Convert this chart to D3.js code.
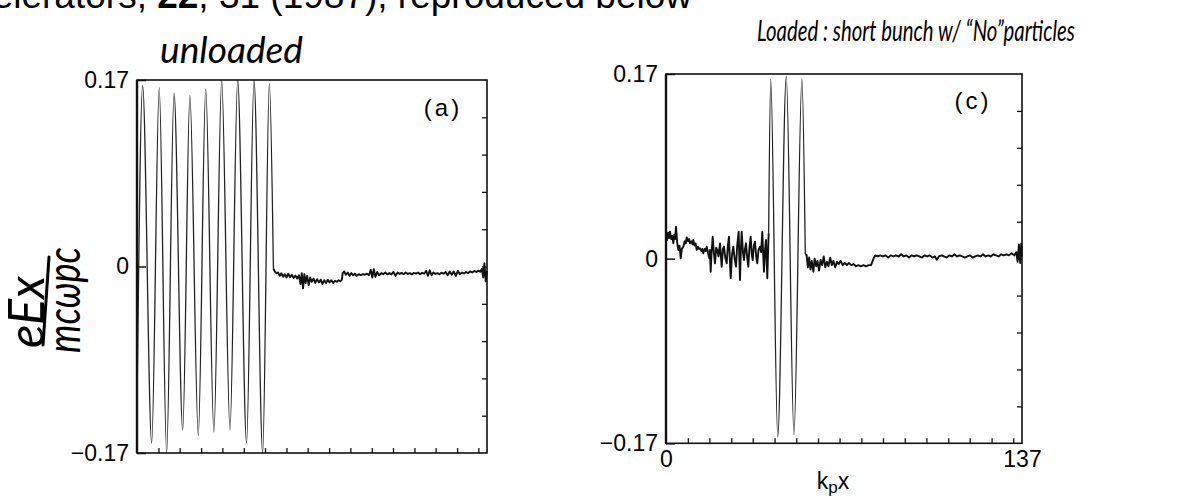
<!DOCTYPE html>
<html>
<head>
<meta charset="utf-8">
<script src="https://cdn.jsdelivr.net/npm/d3@7"></script>
<style>
  body { margin: 0; background: #fff; }
  svg { display: block; }
</style>
</head>
<body>
<div id="chart"></div>
<script>
// Data (x in k_p x units, y in eEx / m c w_p c)
const xDomain = [0, 137];
const yDomain = [-0.17, 0.17];
const xTicks = [8.4, 16.7, 25.1, 33.4, 41.8, 50.1, 58.5, 66.8, 75.2, 83.5, 91.9, 100.2, 108.6, 116.9, 125.3, 133.6];
const yTicks = [-0.136, -0.102, -0.068, -0.034, 0, 0.034, 0.068, 0.102, 0.136];
const yLabels = [-0.17, 0, 0.17];
const xLabels = [0, 137];

// (a) unloaded: wake oscillation, then flat noisy tail
const leftWave = [
  [0, -0.13], [2.2, 0.165], [5.75, -0.161], [8.7, 0.163], [11.6, -0.17], [14.5, 0.158],
  [17.9, -0.149], [20.7, 0.156], [24.0, -0.154], [26.9, 0.162], [30.1, -0.151], [33.15, 0.17],
  [36.4, -0.149], [39.4, 0.17], [42.9, -0.161], [45.8, 0.17], [49.2, -0.17], [51.8, 0.167],
  [53.4, -0.002]
];
const leftNoise = [
  [53.4, -0.002], [54.0, -0.0047], [54.6, -0.0062], [55.2, -0.0055], [55.9, -0.0085], [56.5, -0.0062],
  [57.2, -0.0093], [57.8, -0.007], [58.5, -0.0100], [59.2, -0.0066], [59.9, -0.0098], [60.6, -0.0075],
  [61.3, -0.0105], [62.0, -0.0082], [62.7, -0.0110], [63.4, -0.0080], [64.0, -0.0160], [64.5, -0.0060],
  [65.0, -0.0199], [65.5, -0.0070], [66.0, -0.0150], [66.6, -0.0085], [67.2, -0.0170], [67.8, -0.0100],
  [68.4, -0.0140], [69.1, -0.0110], [69.8, -0.0150], [70.5, -0.0115], [71.2, -0.0145], [71.9, -0.0120],
  [72.6, -0.0160], [73.3, -0.0125], [74.0, -0.0150], [74.7, -0.0120], [75.4, -0.0145], [76.1, -0.0125],
  [76.8, -0.0150], [77.5, -0.0130], [78.2, -0.0140], [78.9, -0.0125], [79.6, -0.0135], [80.2, -0.0120],
  [80.5, -0.0060], [81.1, -0.0045], [81.8, -0.0075], [82.5, -0.0055], [83.2, -0.0085], [83.9, -0.0060],
  [84.6, -0.0080], [85.3, -0.0065], [86.0, -0.0085], [86.8, -0.0070], [87.6, -0.0080], [88.4, -0.0070],
  [89.2, -0.0075], [90.0, -0.0065], [90.8, -0.0080], [91.5, -0.0030], [92.1, -0.0100], [92.7, -0.0025],
  [93.3, -0.0095], [94.0, -0.0050], [94.8, -0.0080], [95.6, -0.0060], [96.4, -0.0070], [97.2, -0.0055],
  [98.0, -0.0072], [98.8, -0.0060], [99.6, -0.0072], [100.4, -0.0050], [101.2, -0.0085], [102.0, -0.0055],
  [102.8, -0.0068], [103.6, -0.0058], [104.4, -0.0070], [105.2, -0.0055], [106.0, -0.0068], [106.8, -0.0060],
  [107.6, -0.0072], [108.4, -0.0058], [109.2, -0.0065], [110.0, -0.0055], [110.8, -0.0070], [111.6, -0.0058],
  [112.4, -0.0066], [113.2, -0.0040], [113.9, -0.0085], [114.6, -0.0035], [115.3, -0.0080], [116.0, -0.0055],
  [116.8, -0.0068], [117.6, -0.0060], [118.4, -0.0070], [119.2, -0.0056], [120.0, -0.0066], [120.8, -0.0050],
  [121.6, -0.0080], [122.4, -0.0045], [123.2, -0.0075], [124.0, -0.0045], [124.8, -0.0085], [125.6, -0.0040],
  [126.4, -0.0070], [127.2, -0.0055], [128.0, -0.0065], [128.8, -0.0050], [129.6, -0.0060], [130.4, -0.0045],
  [131.2, -0.0055], [132.0, -0.0040], [132.8, -0.0050], [133.6, -0.0038], [134.4, -0.0048], [135.0, -0.0020],
  [135.5, -0.0100], [136.0, 0.0030], [136.5, -0.0135], [137.0, -0.0040]
];

// (c) loaded: noise ahead of the bunch, short wake, quiet tail
const rightNoiseA = [
  [0, 0.0233], [0.4, 0.017], [0.8, 0.024], [1.2, 0.019], [1.54, 0.0248], [2.0, 0.018], [2.4, 0.021],
  [2.81, 0.0141], [3.2, 0.022], [3.5, 0.018], [3.85, 0.0294], [4.3, 0.015], [4.73, 0.008], [5.2, 0.012],
  [5.66, 0.0003], [6.1, 0.009], [6.66, 0.011], [7.2, 0.016], [7.6, 0.014], [7.97, 0.0196], [8.5, 0.016],
  [8.9, 0.018], [9.24, 0.0141], [9.8, 0.016], [10.2, 0.013], [10.5, 0.0172], [11.0, 0.012], [11.4, 0.014],
  [11.81, 0.008], [12.3, 0.011], [12.7, 0.009], [13.08, 0.0095], [13.6, 0.007], [14.0, 0.009], [14.35, 0.0049],
  [14.9, 0.009], [15.3, 0.007], [15.66, 0.011], [16.1, 0.006], [16.66, 0.0003], [16.9, 0.008], [17.2, -0.012],
  [17.5, 0.004], [17.97, 0.0202], [18.4, 0.006], [18.86, -0.0043], [19.3, 0.01], [19.74, 0.008], [20.2, 0.002],
  [20.78, 0.0141], [21.1, 0.003], [21.43, -0.0074], [21.9, 0.009], [22.32, 0.011], [22.8, 0.001], [23.36, -0.0043],
  [23.8, 0.012], [24.24, 0.0202], [24.5, 0.003], [24.9, -0.0181], [25.4, 0.004], [25.9, 0.011], [26.4, 0.0],
  [26.94, -0.0074], [27.4, 0.012], [27.97, 0.0248], [28.2, 0.002], [28.48, -0.0197], [28.8, 0.008], [29.13, 0.0248],
  [29.6, 0.006], [30.01, -0.0013], [30.4, 0.009], [30.78, 0.0141], [31.2, 0.002], [31.67, -0.0074], [32.1, 0.01],
  [32.59, 0.0202], [33.0, 0.004], [33.36, -0.0013], [33.8, 0.012], [34.25, 0.0156], [34.7, 0.002], [35.13, -0.0043],
  [35.6, 0.008], [36.17, 0.011], [36.6, 0.006], [37.06, 0.0248], [37.4, 0.004], [37.71, -0.012], [38.1, 0.008],
  [38.48, 0.0172], [38.7, 0.002], [38.98, -0.0181], [39.2, 0.0], [39.5, 0.0233]
];
const rightWave = [
  [39.5, 0.0233], [40.3, 0.165], [43.0, -0.164], [46.3, 0.168], [49.25, -0.162], [52.3, 0.166], [53.6, 0.004]
];
const rightNoiseB = [
  [53.6, 0.004], [54.1, 0.0034], [54.6, -0.008], [55.1, 0.001], [55.6, -0.010], [56.1, -0.002], [56.7, -0.012],
  [57.2, 0.000], [57.8, -0.007], [58.3, -0.002], [58.9, -0.011], [59.5, -0.001], [60.1, -0.006], [60.7, 0.002],
  [61.3, -0.008], [61.9, -0.003], [62.5, -0.007], [63.2, 0.001], [63.8, -0.006], [64.4, -0.002], [65.1, -0.008],
  [65.8, -0.003], [66.5, -0.005], [67.2, -0.002], [68.0, -0.006], [68.8, -0.004], [69.6, -0.006], [70.4, -0.004],
  [71.3, -0.006], [72.2, -0.005], [73.1, -0.007], [74.0, -0.006], [75.0, -0.007], [76.0, -0.006], [77.0, -0.007],
  [78.0, -0.006], [78.9, -0.006], [79.4, -0.003], [80.0, 0.001], [80.6, 0.003], [81.5, 0.002], [82.5, 0.003],
  [83.5, 0.002], [84.5, 0.003], [85.5, 0.001], [86.5, 0.003], [87.5, 0.002], [88.5, 0.003], [89.5, 0.002],
  [90.5, 0.004], [91.5, 0.002], [92.5, 0.003], [93.5, 0.001], [94.5, 0.003], [95.5, 0.002], [96.5, 0.003],
  [97.5, 0.002], [98.5, 0.001], [99.5, 0.003], [100.5, 0.002], [101.5, 0.003], [102.5, 0.001], [103.5, 0.002],
  [104.2, -0.001], [105, 0.002], [106, 0.003], [107, 0.002], [108, 0.001], [109, 0.003], [110, 0.002],
  [111, 0.004], [112, 0.002], [113, 0.003], [114, 0.002], [115, 0.001], [116, 0.002], [117, 0.003],
  [118, 0.001], [119, 0.002], [120, 0.003], [121, 0.002], [122, 0.004], [123, 0.002], [124, 0.003],
  [125, 0.002], [126, 0.004], [127, 0.003], [128, 0.002], [129, 0.004], [130, 0.003], [131, 0.004],
  [132, 0.003], [133, 0.005], [134, 0.003], [134.8, 0.006], [135.3, -0.003], [135.8, 0.013], [136.3, -0.004],
  [136.7, 0.014], [137, 0.002]
];

const width = 1191, height = 502;
const ink = "#111";
const numFont = "'Liberation Sans', Arial, sans-serif";
const handFont = "Lato, 'Open Sans', sans-serif";

const svg = d3.select("#chart").append("svg")
  .attr("width", width)
  .attr("height", height);

svg.append("rect").attr("width", width).attr("height", height).attr("fill", "#fff");

// page text cut off at the top (as in the scan)
svg.append("text")
  .attr("x", 692).attr("y", 8)
  .attr("text-anchor", "end")
  .attr("font-family", numFont)
  .attr("font-size", 37)
  .attr("fill", "#000")
  .call(t => {
    t.append("tspan").text("celerators, ");
    t.append("tspan").attr("font-weight", "bold").text("22");
    t.append("tspan").text(", 31 (1987), reproduced below");
  });

function drawPanel(p) {
  // scales
  var x = d3.scaleLinear().domain(xDomain).range([p.x0, p.x1]);
  var y = d3.scaleLinear().domain(yDomain).range([p.y1, p.y0]);

  const g = svg.append("g");

  // ticks along the bottom, pointing in
  g.append("g")
    .attr("transform", "translate(0," + p.y1 + ")")
    .call(d3.axisBottom(x).tickValues(xTicks).tickSize(-5).tickFormat(""))
    .call(a => a.select(".domain").remove())
    .selectAll("line").attr("stroke", ink).attr("stroke-width", 1.3);

  // ticks along the right edge, pointing in
  g.append("g")
    .attr("transform", "translate(" + p.x1 + ",0)")
    .call(d3.axisLeft(y).tickValues(yTicks).tickSize(5).tickFormat(""))
    .call(a => a.select(".domain").remove())
    .selectAll("line").attr("stroke", ink).attr("stroke-width", 1.3);

  // left axis: labels and the zero tick
  const yAx = g.append("g")
    .attr("transform", "translate(" + p.x0 + ",0)")
    .call(d3.axisLeft(y).tickValues(yLabels).tickSize(-9).tickPadding(8)
      .tickFormat(d => d === 0 ? "0" : d3.format(".2f")(d)));
  yAx.select(".domain").remove();
  yAx.attr("font-family", numFont).attr("font-size", 23);
  yAx.selectAll("line").attr("stroke", ink).attr("stroke-width", 1.5);
  yAx.selectAll("text").attr("fill", "#000");

  if (p.xLabels) {
    const xAx = g.append("g")
      .attr("transform", "translate(0," + p.y1 + ")")
      .call(d3.axisBottom(x).tickValues(xLabels).tickSize(0).tickPadding(7).tickFormat(d3.format("d")));
    xAx.select(".domain").remove();
    xAx.attr("font-family", numFont).attr("font-size", 23);
    xAx.selectAll("text").attr("fill", "#000");

    const lab = g.append("text")
      .attr("x", (p.x0 + p.x1) / 2 - 11).attr("y", 489)
      .attr("text-anchor", "middle")
      .attr("font-family", numFont)
      .attr("font-size", 23)
      .attr("fill", "#000");
    lab.append("tspan").text("k");
    lab.append("tspan").attr("font-size", 17).attr("dy", 4).text("p");
    lab.append("tspan").attr("dy", -4).text("x");
  }

  // curves
  const smooth = d3.line().x(d => x(d[0])).y(d => y(d[1])).curve(d3.curveMonotoneX);
  const rough = d3.line().x(d => x(d[0])).y(d => y(d[1]));

  p.waves.forEach(w => {
    g.append("path").datum(w)
      .attr("d", smooth)
      .attr("fill", "none").attr("stroke", "#222").attr("stroke-width", 1.3);
  });
  p.noise.forEach(n => {
    g.append("path").datum(n)
      .attr("d", rough)
      .attr("fill", "none").attr("stroke", ink).attr("stroke-width", 1.9)
      .attr("stroke-linejoin", "round");
  });

  // frame
  g.append("rect")
    .attr("x", p.x0).attr("y", p.y0)
    .attr("width", p.x1 - p.x0).attr("height", p.y1 - p.y0)
    .attr("fill", "none").attr("stroke", ink).attr("stroke-width", 1.6);
  g.append("line")
    .attr("x1", p.x0).attr("x2", p.x0).attr("y1", p.y0).attr("y2", p.y1)
    .attr("stroke", ink).attr("stroke-width", 2.4);

  // panel tag
  g.append("text")
    .attr("x", p.tagX).attr("y", p.tagY)
    .attr("text-anchor", "middle")
    .attr("font-family", numFont)
    .attr("font-size", 24)
    .attr("letter-spacing", 3)
    .attr("fill", "#000")
    .text(p.tag);
}

drawPanel({x0: 137, x1: 487, y0: 80, y1: 453, waves: [leftWave], noise: [leftNoise],
  tag: "(a)", tagX: 443, tagY: 116, xLabels: false});
drawPanel({x0: 666, x1: 1022, y0: 74, y1: 443.3, waves: [rightWave], noise: [rightNoiseA, rightNoiseB],
  tag: "(c)", tagX: 973, tagY: 109, xLabels: true});

// handwritten notes
svg.append("text")
  .attr("x", 160).attr("y", 63)
  .attr("font-family", handFont).attr("font-style", "italic")
  .attr("font-size", 36)
  .attr("textLength", 143).attr("lengthAdjust", "spacingAndGlyphs")
  .attr("fill", "#000")
  .text("unloaded");

svg.append("text")
  .attr("x", 757).attr("y", 41)
  .attr("font-family", handFont).attr("font-style", "italic")
  .attr("font-size", 28)
  .attr("textLength", 318).attr("lengthAdjust", "spacingAndGlyphs")
  .attr("fill", "#000")
  .text("Loaded : short bunch w/ \u201CNo\u201Dparticles");

// y label, written sideways as a fraction
svg.append("text")
  .attr("transform", "translate(44,312) rotate(-90)")
  .attr("text-anchor", "middle")
  .attr("font-family", handFont).attr("font-style", "italic")
  .attr("font-size", 50)
  .attr("textLength", 72).attr("lengthAdjust", "spacingAndGlyphs")
  .attr("fill", "#000")
  .text("eEx");
svg.append("line")
  .attr("x1", 49).attr("y1", 257).attr("x2", 43).attr("y2", 345)
  .attr("stroke", "#000").attr("stroke-width", 3).attr("stroke-linecap", "round");
svg.append("text")
  .attr("transform", "translate(80,300) rotate(-90)")
  .attr("text-anchor", "middle")
  .attr("font-family", handFont).attr("font-style", "italic")
  .attr("font-size", 46)
  .attr("textLength", 106).attr("lengthAdjust", "spacingAndGlyphs")
  .attr("fill", "#000")
  .text("mc\u03C9pc");
</script>
</body>
</html>
